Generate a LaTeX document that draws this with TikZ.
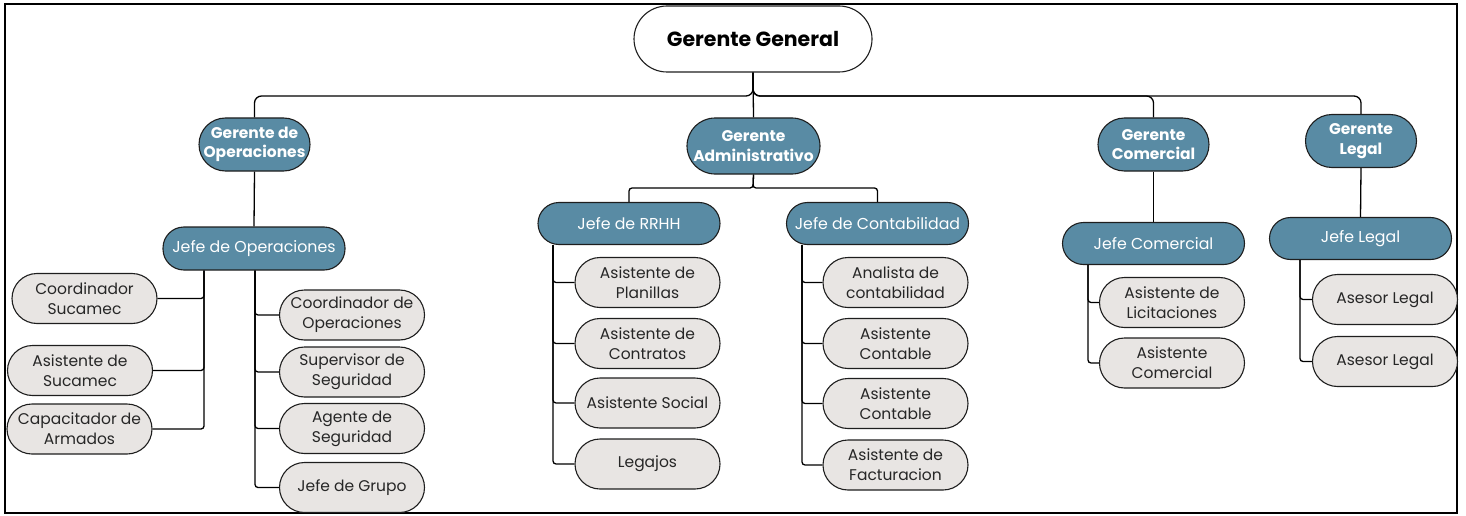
\documentclass[tikz,border=0pt]{standalone}
\usepackage{fontspec}
\setmainfont{Poppins}
\definecolor{mblue}{RGB}{89,139,164}
\definecolor{mgray}{RGB}{232,229,227}
\definecolor{edge}{RGB}{30,30,30}
\begin{document}
\begin{tikzpicture}[x=1pt,y=-1pt,
  box/.style={draw=edge, line width=1.1pt, align=center, inner sep=0pt},
  topbox/.style={box, fill=white, minimum width=238pt, minimum height=66pt, rounded corners=33pt, font=\fontsize{20.5}{24}\selectfont\bfseries},
  mgr/.style={box, fill=mblue, text=white, minimum width=111pt, minimum height=53pt, rounded corners=26.5pt, font=\fontsize{15.5}{19.5}\selectfont\bfseries},
  jefe/.style={box, fill=mblue, text=white, minimum width=182pt, minimum height=42pt, rounded corners=21pt, font=\fontsize{15.8}{19}\selectfont},
  emp/.style={box, fill=mgray, text=black!85, minimum width=145pt, minimum height=50pt, rounded corners=25pt, font=\fontsize{15.5}{20}\selectfont},
  conn/.style={draw=black, line width=1.3pt, rounded corners=3pt}
]
\useasboundingbox (0,0) rectangle (1466,516);
\draw[line width=2.8pt] (5,4) rectangle (1457,513);

% top
\node[topbox] (gg) at (753,39) {Gerente General};
% managers
\node[mgr] (gop) at (254.5,144.5) {Gerente de\\Operaciones};
\node[mgr, minimum width=133pt, minimum height=56pt, rounded corners=28pt] (gad) at (753.5,146) {Gerente\\Administrativo};
\node[mgr] (gco) at (1153.5,144.5) {Gerente\\Comercial};
\node[mgr] (gle) at (1361,141) {Gerente\\Legal};
% jefes
\node[jefe, minimum height=43pt] (jop) at (254,248.5) {Jefe de Operaciones};
\node[jefe] (jrh) at (629,223.5) {Jefe de RRHH};
\node[jefe] (jco) at (877.5,223.5) {Jefe de Contabilidad};
\node[jefe] (jcm) at (1153.5,243.5) {Jefe Comercial};
\node[jefe] (jle) at (1360.5,238.5) {Jefe Legal};
% operaciones
\node[emp] (cs) at (84.5,298.5) {Coordinador\\Sucamec};
\node[emp] (as) at (80,370.5) {Asistente de\\Sucamec};
\node[emp] (ca) at (79.5,429) {Capacitador de\\Armados};
\node[emp] (co) at (352,315) {Coordinador de\\Operaciones};
\node[emp] (su) at (352,372) {Supervisor de\\Seguridad};
\node[emp] (ag) at (352,428.5) {Agente de\\Seguridad};
\node[emp] (jg) at (352,487.5) {Jefe de Grupo};
% rrhh
\node[emp] (pl) at (647.5,282.5) {Asistente de\\Planillas};
\node[emp] (ct) at (647.5,343.5) {Asistente de\\Contratos};
\node[emp] (so) at (647.5,403) {Asistente Social};
\node[emp] (lg) at (647.5,464) {Legajos};
% contabilidad
\node[emp] (an) at (895.5,282.5) {Analista de\\contabilidad};
\node[emp] (ac1) at (895.5,343.5) {Asistente\\Contable};
\node[emp] (ac2) at (895.5,403.5) {Asistente\\Contable};
\node[emp] (fa) at (895.5,465) {Asistente de\\Facturacion};
% comercial
\node[emp] (li) at (1172,302.5) {Asistente de\\Licitaciones};
\node[emp] (acm) at (1172,363) {Asistente\\Comercial};
% legal
\node[emp] (al1) at (1385,299.5) {Asesor Legal};
\node[emp] (al2) at (1385,361.5) {Asesor Legal};

% connectors top
\coordinate (bus) at (753,96);
\draw[conn] (gg.south) -- (gad.north);
\draw[conn, rounded corners=7pt] (gg.south) -- (bus) -| (gop.north);
\draw[conn, rounded corners=7pt] (gg.south) -- (bus) -| (gco.north);
\draw[conn, rounded corners=7pt] (gg.south) -- (bus) -| (gle.north);
\draw[conn] (gop.south) -- (jop.north);
\draw[conn] (gco.south) -- (jcm.north);
\draw[conn] (gle.south) -- (jle.north);
\coordinate (abus) at (753,188);
\draw[conn] (gad.south) -- (abus) -| (jrh.north);
\draw[conn] (gad.south) -- (abus) -| (jco.north);
% operaciones children
\draw[conn] ([xshift=-50pt]jop.south) |- (cs.east);
\draw[conn] ([xshift=-50pt]jop.south) |- (as.east);
\draw[conn] ([xshift=-50pt]jop.south) |- (ca.east);
\draw[conn] ([xshift=1pt]jop.south) |- (co.west);
\draw[conn] ([xshift=1pt]jop.south) |- (su.west);
\draw[conn] ([xshift=1pt]jop.south) |- (ag.west);
\draw[conn] ([xshift=1pt]jop.south) |- (jg.west);
% rrhh children
\draw[conn] ([xshift=-76pt]jrh.south) |- (pl.west);
\draw[conn] ([xshift=-76pt]jrh.south) |- (ct.west);
\draw[conn] ([xshift=-76pt]jrh.south) |- (so.west);
\draw[conn] ([xshift=-76pt]jrh.south) |- (lg.west);
% contabilidad children
\draw[conn] ([xshift=-75.5pt]jco.south) |- (an.west);
\draw[conn] ([xshift=-75.5pt]jco.south) |- (ac1.west);
\draw[conn] ([xshift=-75.5pt]jco.south) |- (ac2.west);
\draw[conn] ([xshift=-75.5pt]jco.south) |- (fa.west);
% comercial children
\draw[conn] ([xshift=-65.5pt]jcm.south) |- (li.west);
\draw[conn] ([xshift=-65.5pt]jcm.south) |- (acm.west);
% legal children
\draw[conn] ([xshift=-60.5pt]jle.south) |- (al1.west);
\draw[conn] ([xshift=-60.5pt]jle.south) |- (al2.west);
\end{tikzpicture}
\end{document}
